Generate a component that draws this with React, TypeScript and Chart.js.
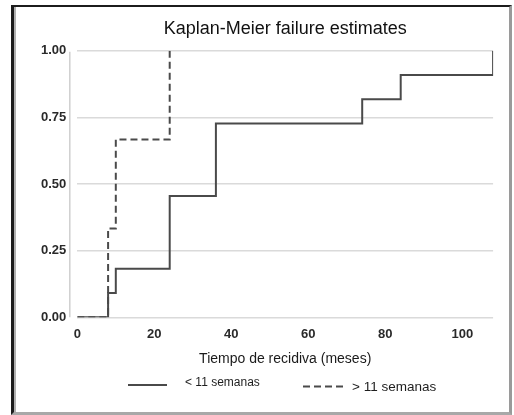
import React, { useEffect, useRef } from 'react';
import { Chart, registerables } from 'chart.js';

Chart.register(...registerables);

const titleText = 'Kaplan-Meier failure estimates';
const xAxisTitle = 'Tiempo de recidiva (meses)';
const seriesLabels = ['< 11 semanas', '> 11 semanas'];

// Kaplan-Meier failure estimates (time in months, cumulative failure)
const timesShort = [0, 8, 10, 24, 36, 74, 84, 108];
const failShort = [0, 0.091, 0.182, 0.455, 0.727, 0.818, 0.909, 1.0];
const timesLong = [0, 8, 10, 24];
const failLong = [0, 0.333, 0.667, 1.0];

const xTicks = [0, 20, 40, 60, 80, 100];
const yTicks = [0, 0.25, 0.5, 0.75, 1.0];
const xMin = 0;
const xMax = 108;

const FONT = '"Liberation Sans", Arial, Helvetica, sans-serif';
const LINE_COLOR = '#4a4a4a';

const yAxisLinePlugin = {
  id: 'yAxisLine',
  beforeDatasetsDraw(chart: any) {
    const { ctx, chartArea } = chart;
    ctx.save();
    ctx.strokeStyle = '#cfcfcf';
    ctx.lineWidth = 1.5;
    ctx.beginPath();
    const x = chartArea.left - 7.5;
    ctx.moveTo(x, chartArea.top + 1);
    ctx.lineTo(x, chartArea.bottom);
    ctx.stroke();
    ctx.restore();
  },
};

const legendPlugin = {
  id: 'customLegend',
  afterDraw(chart: any) {
    const { ctx } = chart;
    const items = [
      { x0: 128, x1: 167, ly: 385, tx: 185, ty: 383, size: 12 },
      { x0: 303, x1: 347, ly: 386.5, tx: 352, ty: 387, size: 13.5 },
    ];
    chart.data.datasets.forEach((ds: any, i: number) => {
      const it = items[i];
      if (!it) return;
      ctx.save();
      ctx.strokeStyle = ds.borderColor;
      ctx.lineWidth = 2;
      ctx.setLineDash(ds.borderDash || []);
      ctx.beginPath();
      ctx.moveTo(it.x0, it.ly);
      ctx.lineTo(it.x1, it.ly);
      ctx.stroke();
      ctx.setLineDash([]);
      ctx.fillStyle = '#1e1e1e';
      ctx.font = `${it.size}px ${FONT}`;
      ctx.textBaseline = 'middle';
      ctx.textAlign = 'left';
      ctx.fillText(ds.label, it.tx, it.ty);
      ctx.restore();
    });
  },
};

export default function App() {
  const canvasRef = useRef<HTMLCanvasElement | null>(null);

  useEffect(() => {
    if (!canvasRef.current) return;
    const chart = new Chart(canvasRef.current, {
      type: 'line',
      data: {
        datasets: [
          {
            label: seriesLabels[0],
            data: timesShort.map((t, i) => ({ x: t, y: failShort[i] })),
            borderColor: LINE_COLOR,
            borderWidth: 2,
            stepped: 'before',
            pointRadius: 0,
            fill: false,
            order: 1,
          },
          {
            label: seriesLabels[1],
            data: timesLong.map((t, i) => ({ x: t, y: failLong[i] })),
            borderColor: LINE_COLOR,
            borderWidth: 2,
            borderDash: [7, 4],
            stepped: 'before',
            pointRadius: 0,
            fill: false,
            order: 2,
          },
        ],
      },
      options: {
        animation: false,
        responsive: false,
        layout: { padding: { left: 17.3, right: 20.9, top: 0, bottom: 47.7 } },
        plugins: {
          legend: { display: false },
          tooltip: { enabled: false },
          title: {
            display: true,
            text: titleText,
            fullSize: false,
            color: '#111',
            font: { family: FONT, size: 18, weight: 'normal' },
            padding: { top: 18, bottom: 11.1 },
          },
        },
        scales: {
          x: {
            type: 'linear',
            min: xMin,
            max: xMax,
            afterFit: (s: any) => { s.height = 50; },
            afterBuildTicks: (s: any) => { s.ticks = xTicks.map((v) => ({ value: v })); },
            grid: { display: false, drawTicks: false },
            border: { display: false },
            ticks: {
              padding: 9,
              color: '#2a2a2a',
              font: { family: FONT, size: 13, weight: 'bold' },
              maxRotation: 0,
              includeBounds: false,
            },
            title: {
              display: true,
              text: xAxisTitle,
              color: '#1a1a1a',
              font: { family: FONT, size: 14, weight: 'normal' },
              padding: { top: 0, bottom: 0 },
            },
          },
          y: {
            type: 'linear',
            min: 0,
            max: 1,
            afterFit: (s: any) => { s.width = 60; },
            afterBuildTicks: (s: any) => { s.ticks = yTicks.map((v) => ({ value: v })); },
            grid: { color: '#dadada', lineWidth: 1.5, drawTicks: false },
            border: { display: false },
            ticks: {
              padding: 11,
              color: '#2a2a2a',
              font: { family: FONT, size: 13, weight: 'bold' },
              callback: (v: any) => Number(v).toFixed(2),
            },
          },
        },
      },
      plugins: [yAxisLinePlugin, legendPlugin],
    } as any);
    return () => chart.destroy();
  }, []);

  return (
    <div style={{ position: 'absolute', left: 0, top: 0, width: 514, height: 415, background: '#fff', overflow: 'hidden' }}>
      <canvas ref={canvasRef} width={514} height={415} style={{ position: 'absolute', left: 0, top: 0, width: 514, height: 415 }} />
      <div
        style={{
          position: 'absolute',
          left: 11,
          top: 5,
          width: 495,
          height: 405,
          borderLeft: '3px solid #1c1c1c',
          borderTop: '2px solid #1c1c1c',
          borderRight: '3px solid #9a9a9a',
          borderBottom: '3px solid #a8a8a8',
          boxShadow: 'inset 2px 0 0 #b0b0b0',
          pointerEvents: 'none',
        }}
      />
    </div>
  );
}
